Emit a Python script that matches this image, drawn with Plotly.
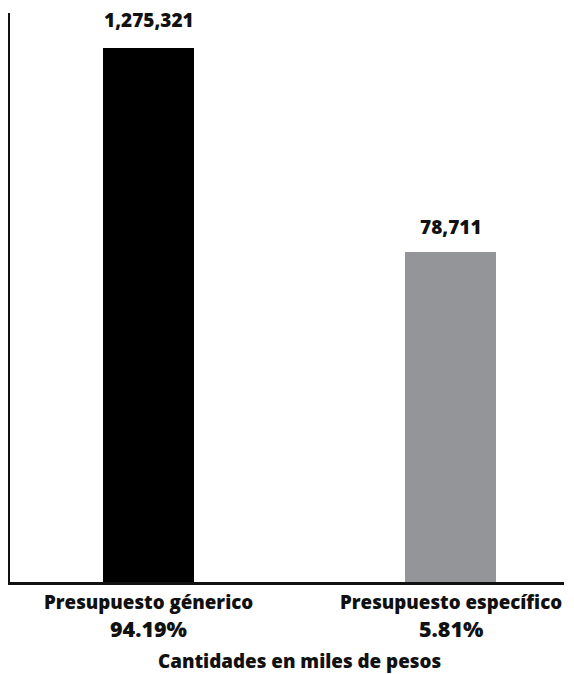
import plotly.graph_objects as go
import math

categories = ["Presupuesto génerico", "Presupuesto específico"]
values = [1275321, 78711]
percents = ["94.19%", "5.81%"]
value_labels = ["1,275,321", "78,711"]
colors = ["#000000", "#939598"]
x_title = "Cantidades en miles de pesos"

FONT = "Open Sans"
INK = "#111111"
xs = [0, 1]

fig = go.Figure()
fig.add_trace(go.Bar(
    x=xs, y=values, marker=dict(color=colors, line=dict(width=0)),
    width=0.301, hoverinfo="skip", showlegend=False,
))

for xi, v, lab, ys in zip(xs, values, value_labels, [13, 10]):
    fig.add_annotation(x=xi, y=math.log10(v), xref="x", yref="y", text=lab,
                       showarrow=False, yanchor="bottom", yshift=ys,
                       font=dict(family=FONT, size=19, color=INK, weight=800))
for xi, cat, pct in zip(xs, categories, percents):
    fig.add_annotation(x=xi, y=0, xref="x", yref="paper", text=cat,
                       showarrow=False, yanchor="middle", yshift=-19,
                       font=dict(family=FONT, size=18.7, color=INK, weight=800))
    fig.add_annotation(x=xi, y=0, xref="x", yref="paper", text=pct,
                       showarrow=False, yanchor="middle", yshift=-46,
                       font=dict(family=FONT, size=21.5, color=INK, weight=800))
fig.add_annotation(x=0.5, y=0, xref="x", yref="paper", text=x_title,
                   showarrow=False, yanchor="middle", yshift=-79,
                   font=dict(family=FONT, size=18.8, color=INK, weight=800))

fig.update_xaxes(range=[-0.4586, 1.3758], showticklabels=False, ticks="",
                 showgrid=False, zeroline=False, showline=True,
                 linecolor=INK, linewidth=2.5)
fig.update_yaxes(type="log", range=[2.9315, 6.3141], showticklabels=False, ticks="",
                 showgrid=False, zeroline=False, showline=True,
                 linecolor=INK, linewidth=2.5)
fig.update_layout(
    width=566, height=666, margin=dict(l=2, r=10, t=5, b=92),
    plot_bgcolor="white", paper_bgcolor="white", bargap=0,
)
fig.write_html("out.html")
